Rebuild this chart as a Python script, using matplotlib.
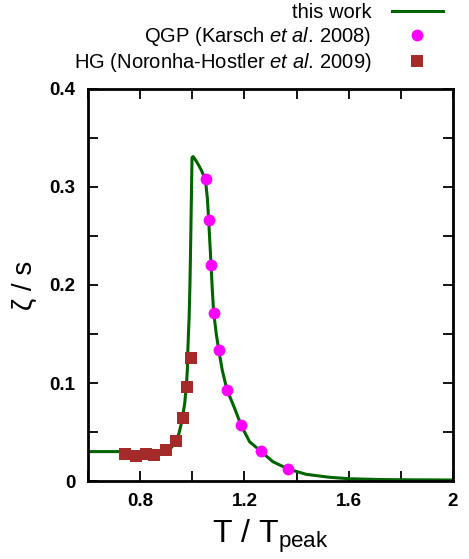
import numpy as np
import matplotlib
matplotlib.use("Agg")
import matplotlib.pyplot as plt
from matplotlib.ticker import MultipleLocator, FuncFormatter

plt.rcParams['font.family'] = ['Liberation Sans', 'DejaVu Sans']
plt.rcParams['mathtext.fontset'] = 'custom'
plt.rcParams['mathtext.rm'] = 'Liberation Sans'
plt.rcParams['mathtext.it'] = 'Liberation Sans:italic'
plt.rcParams['mathtext.bf'] = 'Liberation Sans:bold'

# this work (curve)
curve_t = [0.6, 0.7, 0.8, 0.87, 0.9, 0.914, 0.933, 0.949, 0.961, 0.971, 0.978,
           0.981, 0.983, 0.988, 0.991, 0.993, 0.995, 0.997, 0.999, 1.003, 1.009,
           1.016, 1.025, 1.035, 1.045, 1.051, 1.058, 1.063, 1.0675, 1.072, 1.077,
           1.082, 1.092, 1.102, 1.115, 1.133, 1.16, 1.188, 1.22, 1.262, 1.309,
           1.368, 1.437, 1.526, 1.602, 1.717, 1.85, 2.0]
curve_zeta = [0.030, 0.030, 0.030, 0.0295, 0.0305, 0.0323, 0.0385, 0.0486, 0.0622,
              0.0793, 0.100, 0.113, 0.134, 0.168, 0.200, 0.230, 0.263, 0.297, 0.330,
              0.331, 0.329, 0.326, 0.322, 0.317, 0.311, 0.306, 0.288, 0.266, 0.243,
              0.221, 0.194, 0.172, 0.150, 0.133, 0.113, 0.093, 0.0758, 0.0564, 0.040,
              0.0306, 0.0197, 0.0122, 0.0068, 0.0038, 0.0023, 0.0015, 0.0012, 0.001]

# QGP (Karsch et al. 2008)
qgp_t = [1.051, 1.063, 1.072, 1.082, 1.102, 1.133, 1.187, 1.262, 1.369]
qgp_zeta = [0.3078, 0.2663, 0.2204, 0.1711, 0.1333, 0.0932, 0.0568, 0.0306, 0.0122]

# HG (Noronha-Hostler et al. 2009)
hg_t = [0.742, 0.784, 0.822, 0.853, 0.898, 0.939, 0.963, 0.981, 0.994]
hg_zeta = [0.0272, 0.0255, 0.0276, 0.0262, 0.0313, 0.0412, 0.0643, 0.096, 0.126]

fig = plt.figure(figsize=(4.69, 5.59), dpi=100)
ax = fig.add_axes([88 / 469, 1 - 481 / 559, (453 - 88) / 469, (481 - 89) / 559])

ax.plot(curve_t, curve_zeta, color='#006400', lw=2.2, label='this work', zorder=2)
ax.plot(qgp_t, qgp_zeta, 'o', color='#ff00ff', ms=8.5, mew=0,
        label=r'QGP (Karsch $\mathit{et\ al.}\,$2008)', zorder=3)
ax.plot(hg_t, hg_zeta, 's', color='#a52a2a', ms=8, mew=0,
        label=r'HG (Noronha-Hostler $\mathit{et\ al.}\,$2009)', zorder=3)

ax.set_xlim(0.6, 2.0)
ax.set_ylim(0, 0.4)
ax.xaxis.set_major_locator(MultipleLocator(0.4))
ax.xaxis.set_minor_locator(MultipleLocator(0.2))
ax.yaxis.set_major_locator(MultipleLocator(0.1))
ax.yaxis.set_minor_locator(MultipleLocator(0.05))
fmt = FuncFormatter(lambda v, p: '%g' % round(v, 3))
ax.xaxis.set_major_formatter(fmt)
ax.yaxis.set_major_formatter(fmt)

ax.tick_params(which='both', direction='in', top=True, right=True,
               length=7, width=1.3)
ax.tick_params(labelsize=13.5, pad=9)
for lab in ax.get_xticklabels() + ax.get_yticklabels():
    lab.set_fontweight('bold')
for s in ax.spines.values():
    s.set_linewidth(2)

ax.set_xlabel(r'T / T$_{\mathrm{peak}}$', fontsize=23, labelpad=5)
ax.set_ylabel(r'ζ / s', fontsize=20, labelpad=8)

fig.legend(loc='upper right', bbox_to_anchor=(443 / 469, 1 - 3 / 559), frameon=False,
           markerfirst=False, fontsize=14.5, handlelength=2.55, handletextpad=1.0,
           labelspacing=0.15, borderaxespad=0, borderpad=0)

fig.savefig('out.png', dpi=100)
